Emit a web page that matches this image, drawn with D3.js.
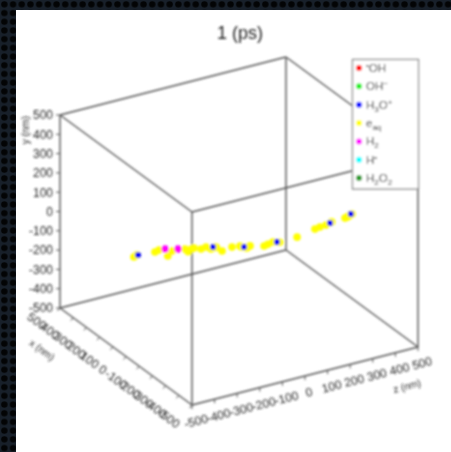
<!DOCTYPE html>
<html><head><meta charset="utf-8">
<script src="https://cdn.jsdelivr.net/npm/d3@7"></script>
<style>body{margin:0;background:#fff}svg{display:block}</style>
</head><body>
<script>
// ---------- data ----------
const chartTitle = "1 (ps)";
const tickValues = [-500,-400,-300,-200,-100,0,100,200,300,400,500];
const axisTitles = ["x (nm)", "y (nm)", "z (nm)"];
const speciesNames = ["•OH","OH⁻","H₃O⁺","e_aq","H₂","H•","H₂O₂"];
const speciesColors = ["#ff0000","#22ee22","#0000ff","#ffff00","#ff00ff","#00ffff","#229922"];
// legend rich-text parts: [text, kind]
const speciesParts = [
  [["•","sup"],["OH",""]],
  [["OH",""],["−","sup"]],
  [["H",""],["3","sub"],["O",""],["+","sup"]],
  [["e",""],["aq","sub"]],
  [["H",""],["2","sub"]],
  [["H",""],["•","sup"]],
  [["H",""],["2","sub"],["O",""],["2","sub"]]
];
// molecule positions (nm): species index, x, y, z
const ptSpecies = [3,3,3,3,3,3,3,3,3,3,3,3,3,3,3,3,3,3,3,3,3,3,3,3,3,3,3,3,3,3,3,3,3,3,3, 2,2,2,2,2,2, 4,4];
const ptX = [0,0,0,0,0,0,0,0,0,0,0,0,0,0,0,0,0,0,0,0,0,0,0,0,0,0,0,0,0,0,0,0,0,0,0, 0,0,0,0,0,0, 0,0];
const ptY = [5,12,3,8,-15,-22,-28,-43,-39,-56,-52,-81,-74,-79,-86,-92,-98,-111,-107,-102,-112,-109,-91,-87,-85,-76,-74,-68,-72,-40,-30,-35,-55,-95,-62,
             10,-48,-90,-108,-80,-61, 5,-12];
const ptZ = [-465,-452,-372,-354,-296,-239,-199,-168,-146,-124,-105,-75,-31,4,10,49,35,111,128,150,180,257,336,358,385,410,469,487,478,-225,-210,-315,-100,30,500,
             -447,-115,22,168,403,495, -327,-270];

// ---------- drawing ----------
const W = 451, H = 452;
const svg = d3.select("body").append("svg").attr("width", W).attr("height", H);
const defs = svg.append("defs");
const pat = defs.append("pattern").attr("id","dots").attr("width",8.7).attr("height",8.7).attr("patternUnits","userSpaceOnUse");
pat.append("rect").attr("width",8.7).attr("height",8.7).attr("fill","#18202a");
pat.append("circle").attr("cx",4.35).attr("cy",4.35).attr("r",3.2).attr("fill","#030405");
defs.append("filter").attr("id","soft").attr("x",-0.05).attr("y",-0.05).attr("width",1.1).attr("height",1.1)
  .append("feGaussianBlur").attr("stdDeviation",0.85);

svg.append("rect").attr("width",W).attr("height",H).attr("fill","url(#dots)");
svg.append("rect").attr("x",16).attr("y",10).attr("width",W-16).attr("height",H-10).attr("fill","#fff");

const g = svg.append("g").attr("filter","url(#soft)");

// 3D oblique projection built from linear scales
const xScale = d3.scaleLinear().domain([-500,500]).range([0,1]);
const yScale = d3.scaleLinear().domain([-500,500]).range([0,1]);
const zScale = d3.scaleLinear().domain([-500,500]).range([0,1]);
const O = [192,405], EX = [-132,-97], EY = [0,-193], EZ = [226,-58];
function proj(x,y,z){
  const a = xScale(x), b = yScale(y), c = zScale(z);
  return [O[0]+a*EX[0]+b*EY[0]+c*EZ[0], O[1]+a*EX[1]+b*EY[1]+c*EZ[1]];
}

// cube edges
const lo = -500, hi = 500;
const corners = [];
for (const x of [lo,hi]) for (const y of [lo,hi]) for (const z of [lo,hi]) corners.push([x,y,z]);
const edges = [];
for (let i=0;i<8;i++) for (let j=i+1;j<8;j++){
  const d = corners[i].reduce((s,v,k)=>s+(v!==corners[j][k]?1:0),0);
  if (d===1) edges.push([corners[i],corners[j]]);
}
g.selectAll("line.edge").data(edges).join("line").attr("class","edge")
  .attr("x1",d=>proj(...d[0])[0]).attr("y1",d=>proj(...d[0])[1])
  .attr("x2",d=>proj(...d[1])[0]).attr("y2",d=>proj(...d[1])[1])
  .attr("stroke","#555").attr("stroke-width",1.4);

const txt = "#2a2a2a";
const fam = "'Liberation Sans', Arial, Helvetica, sans-serif";

// y axis (vertical, at x=+500, z=-500)
tickValues.forEach(t=>{
  const p = proj(hi,t,lo);
  g.append("line").attr("x1",p[0]).attr("y1",p[1]).attr("x2",p[0]-4).attr("y2",p[1]).attr("stroke","#555").attr("stroke-width",1);
  g.append("text").attr("x",p[0]-7).attr("y",p[1]).attr("dy","0.36em").attr("text-anchor","end")
    .attr("font-family",fam).attr("font-size",12).attr("fill",txt).text(t);
});
g.append("text").attr("transform","translate(25,116) rotate(-90)").attr("text-anchor","end")
  .attr("dy","0.35em").attr("font-family",fam).attr("font-size",10).attr("fill",txt).text(axisTitles[1]);

// x axis (depth edge, y=-500, z=-500)
tickValues.forEach(t=>{
  const p = proj(t,lo,lo);
  g.append("line").attr("x1",p[0]).attr("y1",p[1]).attr("x2",p[0]-2.5).attr("y2",p[1]+3).attr("stroke","#555").attr("stroke-width",1);
  g.append("text").attr("transform",`translate(${p[0]-23},${p[1]+13}) rotate(36)`)
    .attr("text-anchor","middle").attr("dy","0.36em")
    .attr("font-family",fam).attr("font-size",12).attr("fill",txt).text(t);
});
g.append("text").attr("transform","translate(42,350) rotate(36)").attr("text-anchor","middle")
  .attr("dy","0.35em").attr("font-family",fam).attr("font-size",10).attr("fill",txt).text(axisTitles[0]);

// z axis (front edge, x=-500, y=-500)
tickValues.forEach(t=>{
  const p = proj(lo,lo,t);
  g.append("line").attr("x1",p[0]).attr("y1",p[1]).attr("x2",p[0]).attr("y2",p[1]+4).attr("stroke","#555").attr("stroke-width",1);
  g.append("text").attr("transform",`translate(${p[0]+4},${p[1]+16}) rotate(-14.4)`)
    .attr("text-anchor","middle").attr("dy","0.36em")
    .attr("font-family",fam).attr("font-size",12).attr("fill",txt).text(t);
});
g.append("text").attr("transform","translate(407,386) rotate(-14.4)").attr("text-anchor","middle")
  .attr("dy","0.35em").attr("font-family",fam).attr("font-size",10).attr("fill",txt).text(axisTitles[2]);

// points: yellow first, then others on top
const pts = ptSpecies.map((s,i)=>({s, p: proj(ptX[i],ptY[i],ptZ[i])}));
g.selectAll("circle.pt").data(pts).join("circle").attr("class","pt")
  .attr("cx",d=>d.p[0]).attr("cy",d=>d.p[1]).attr("r",d=>d.s===3?3.8:(d.s===4?3.7:3))
  .attr("fill",d=>speciesColors[d.s]);

// title
g.append("text").attr("x",240).attr("y",39).attr("text-anchor","middle")
  .attr("font-family",fam).attr("font-size",18).attr("fill","#222").text(chartTitle);

// legend
const lg = g.append("g");
lg.append("rect").attr("x",352.5).attr("y",59.5).attr("width",66).attr("height",129.5)
  .attr("fill","#fff").attr("stroke","#777").attr("stroke-width",1.2);
speciesNames.forEach((name,i)=>{
  const cy = 68 + i*18.35;
  lg.append("circle").attr("cx",359).attr("cy",cy).attr("r",3).attr("fill",speciesColors[i]);
  const t = lg.append("text").attr("x",366).attr("y",cy+4).attr("font-family",fam).attr("font-size",11.5).attr("fill",txt);
  let cur = 0;
  speciesParts[i].forEach(([s,k])=>{
    const target = k==="sup" ? -4 : k==="sub" ? 3 : 0;
    t.append("tspan").attr("dy",target-cur).attr("font-size",k?8:11.5).text(s);
    cur = target;
  });
});
</script>
</body></html>
